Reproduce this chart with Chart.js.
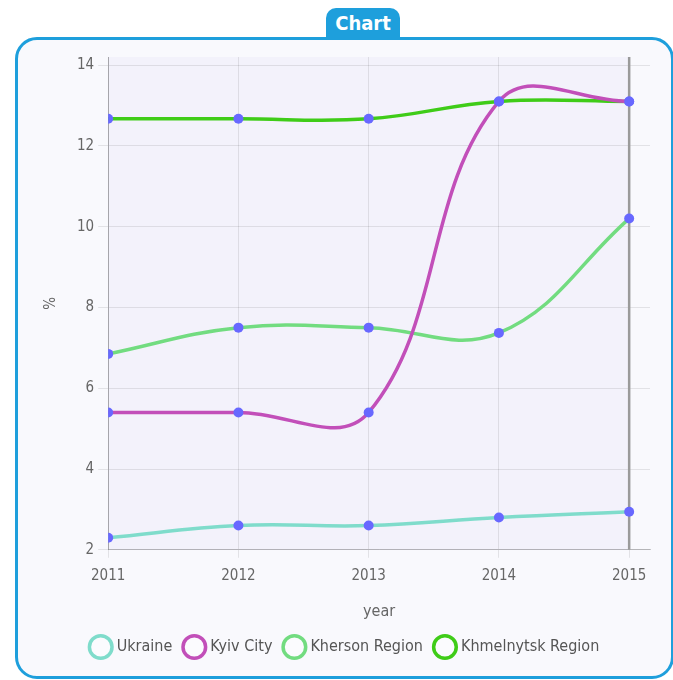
<!DOCTYPE html>
<html>
<head>
<meta charset="utf-8">
<script src="https://cdn.jsdelivr.net/npm/chart.js@4.4.0/dist/chart.umd.min.js"></script>
<style>
  html, body { margin: 0; padding: 0; background: #fff; }
  body { width: 673px; height: 680px; position: relative; overflow: hidden; font-family: "DejaVu Sans Condensed", "Liberation Sans Narrow", sans-serif; }
  .tab {
    position: absolute; left: 326px; top: 8px; width: 74px; height: 32px;
    background: #1e9fdc; color: #fff; border-radius: 10px 10px 0 0;
    font-weight: bold; font-size: 20px; text-align: center; line-height: 30px;
  }
  .box {
    position: absolute; left: 15px; top: 37px; width: 653px; height: 636px;
    border: 3px solid #1e9fdc; border-radius: 22px; background: #f9f9fd;
  }
  #wrap { position: absolute; left: 22px; top: 44px; width: 651px; height: 626px; }
</style>
</head>
<body>
<div class="box"></div>
<div class="tab">Chart</div>
<div id="wrap"><canvas id="grafico"></canvas></div>
<script>
const anos = [2011, 2012, 2013, 2014, 2015];
const ukraine = [2.3, 2.6, 2.6, 2.8, 2.94];
const kyiv = [5.4, 5.4, 5.4, 13.1, 13.1];
const kherson = [6.85, 7.5, 7.5, 7.37, 10.2];
const khmelnytsk = [12.67, 12.67, 12.67, 13.1, 13.1];
const nomes = ['Ukraine', 'Kyiv City', 'Kherson Region', 'Khmelnytsk Region'];
const cores = ['#7fdccb', '#c24fb9', '#72dc80', '#3fcc18'];
const yTicks = [2, 4, 6, 8, 10, 12, 14];

const fonte = '"DejaVu Sans Condensed", "Liberation Sans Narrow", sans-serif';

function serie(valores) {
    return anos.map((a, i) => ({ x: a, y: valores[i] }));
}

// fundo da area do grafico e linha escura no ultimo ano
const fundoPlugin = {
    id: 'fundo',
    beforeDraw(chart) {
        const { ctx, chartArea, scales } = chart;
        const xFim = scales.x.getPixelForValue(anos[anos.length - 1]);
        ctx.save();
        ctx.fillStyle = 'rgba(236, 232, 248, 0.45)';
        ctx.fillRect(chartArea.left, chartArea.top, xFim - chartArea.left, chartArea.bottom - chartArea.top);
        ctx.restore();
    },
    beforeDatasetsDraw(chart) {
        const { ctx, chartArea, scales } = chart;
        const xFim = scales.x.getPixelForValue(anos[anos.length - 1]);
        ctx.save();
        ctx.strokeStyle = '#9a9a9a';
        ctx.lineWidth = 2.5;
        ctx.beginPath();
        ctx.moveTo(xFim, chartArea.top);
        ctx.lineTo(xFim, chartArea.bottom);
        ctx.stroke();
        ctx.restore();
    }
};

const dados = [ukraine, kyiv, kherson, khmelnytsk];

const grafico = new Chart(document.getElementById('grafico').getContext('2d'), {
    type: 'line',
    data: {
        datasets: dados.map((d, i) => ({
            label: nomes[i],
            data: serie(d),
            borderColor: cores[i],
            backgroundColor: 'rgba(255,255,255,0.9)',
            borderWidth: 3.5,
            tension: 0.4,
            fill: false,
            pointStyle: 'circle',
            pointRadius: 5,
            pointBackgroundColor: '#6868ff',
            pointBorderColor: '#6868ff',
            pointBorderWidth: 0
        }))
    },
    options: {
        responsive: true,
        maintainAspectRatio: false,
        animation: false,
        layout: { padding: { left: 20, right: 23, top: 12, bottom: 5 } },
        plugins: {
            legend: {
                position: 'bottom',
                labels: {
                    usePointStyle: true,
                    color: '#555',
                    padding: 14,
                    font: { family: fonte, size: 16 },
                    generateLabels(chart) {
                        const itens = Chart.defaults.plugins.legend.labels.generateLabels(chart);
                        itens.forEach(it => {
                            it.fillStyle = '#fbfbfe';
                            it.strokeStyle = cores[it.datasetIndex];
                            it.lineWidth = 3.5;
                            it.pointStyle = 'circle';
                        });
                        return itens;
                    }
                }
            },
            tooltip: { enabled: false }
        },
        scales: {
            x: {
                type: 'linear',
                min: anos[0],
                max: 2015.16,
                afterBuildTicks(scale) {
                    scale.ticks = anos.map(v => ({ value: v }));
                },
                ticks: {
                    color: '#666',
                    font: { family: fonte, size: 15 },
                    maxRotation: 0,
                    padding: 9,
                    callback: v => String(v)
                },
                grid: { color: 'rgba(0,0,0,0.09)', tickLength: 8 },
                border: { color: 'rgba(0,0,0,0.2)' },
                title: { display: true, text: 'year', color: '#666', font: { family: fonte, size: 16 }, padding: { top: 8, bottom: 4 } }
            },
            y: {
                min: 2,
                max: 14.2,
                afterBuildTicks(scale) {
                    scale.ticks = yTicks.map(v => ({ value: v }));
                },
                ticks: {
                    color: '#666',
                    font: { family: fonte, size: 15 },
                    padding: 4
                },
                grid: { color: 'rgba(0,0,0,0.09)', tickLength: 10 },
                border: { color: 'rgba(0,0,0,0.25)' },
                title: { display: true, text: '%', color: '#666', font: { family: fonte, size: 15 }, padding: { top: 0, bottom: 13 } }
            }
        }
    },
    plugins: [fundoPlugin]
});
</script>
</body>
</html>
